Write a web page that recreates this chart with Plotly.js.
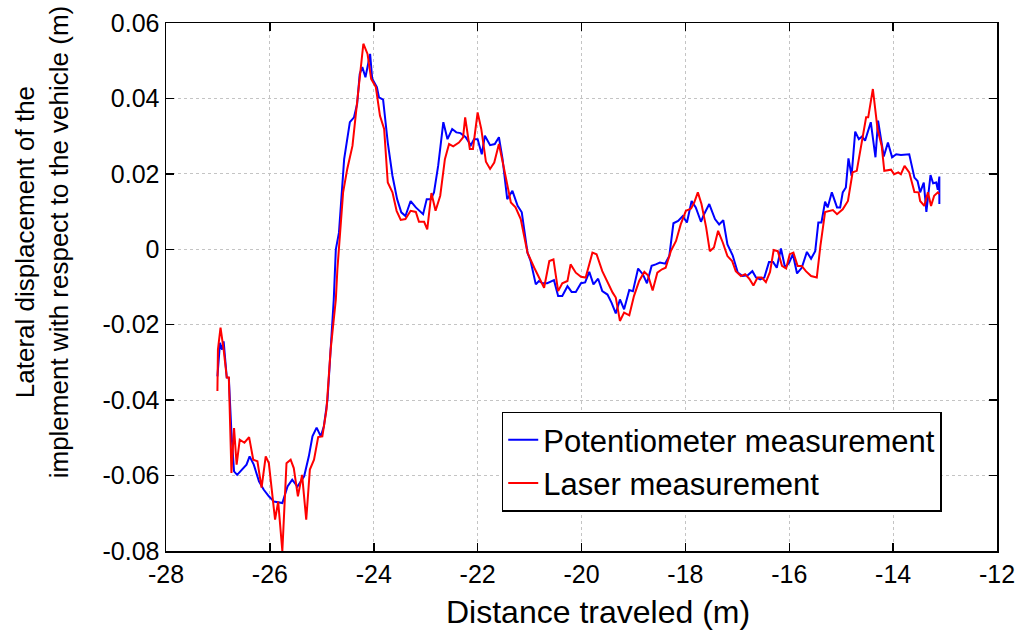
<!DOCTYPE html>
<html>
<head>
<meta charset="utf-8">
<script src="https://cdn.plot.ly/plotly-3.0.1.min.js"></script>
<style>
  html, body { margin: 0; padding: 0; background: #fff; }
  #chart { width: 1024px; height: 642px; }
</style>
</head>
<body>
<div id="chart"></div>
<script>
// Potentiometer measurement (blue)
const potX = [-27.01,-26.96,-26.92,-26.89,-26.83,-26.79,-26.74,-26.69,-26.63,-26.53,
  -26.45,-26.39,-26.31,-26.21,-26.12,-26.02,-25.92,-25.76,-25.66,-25.57,
  -25.47,-25.34,-25.25,-25.18,-25.10,-25.02,-24.96,-24.89,-24.83,-24.77,
  -24.73,-24.67,-24.57,-24.46,-24.38,-24.32,-24.27,-24.22,-24.16,-24.07,
  -24.03,-23.94,-23.90,-23.82,-23.73,-23.64,-23.55,-23.47,-23.39,-23.29,
  -23.19,-23.12,-23.05,-22.98,-22.90,-22.84,-22.76,-22.66,-22.58,-22.49,
  -22.41,-22.33,-22.23,-22.13,-22.07,-22.00,-21.92,-21.86,-21.76,-21.67,
  -21.59,-21.52,-21.43,-21.33,-21.23,-21.15,-21.04,-20.98,-20.88,-20.82,
  -20.75,-20.66,-20.53,-20.45,-20.37,-20.27,-20.19,-20.11,-20.01,-19.93,
  -19.85,-19.77,-19.68,-19.60,-19.50,-19.42,-19.34,-19.26,-19.18,-19.08,
  -19.01,-18.91,-18.82,-18.74,-18.65,-18.57,-18.49,-18.39,-18.31,-18.23,
  -18.14,-18.05,-17.97,-17.88,-17.80,-17.70,-17.64,-17.54,-17.43,-17.35,
  -17.27,-17.19,-17.09,-16.99,-16.90,-16.80,-16.71,-16.64,-16.56,-16.48,
  -16.39,-16.31,-16.24,-16.16,-16.08,-16.00,-15.93,-15.85,-15.76,-15.66,
  -15.58,-15.50,-15.44,-15.38,-15.31,-15.26,-15.18,-15.08,-15.02,-14.97,
  -14.91,-14.86,-14.80,-14.73,-14.66,-14.60,-14.54,-14.43,-14.34,-14.29,
  -14.18,-14.10,-14.02,-13.94,-13.85,-13.69,-13.59,-13.53,-13.48,-13.41,
  -13.36,-13.28,-13.23,-13.17,-13.14,-13.11,-13.11];
const potY = [-0.0337,-0.0248,-0.0266,-0.0244,-0.0340,-0.0341,-0.0486,-0.0589,-0.0598,-0.0584,
  -0.0571,-0.0549,-0.0571,-0.0615,-0.0637,-0.0655,-0.0669,-0.0673,-0.0629,-0.0611,
  -0.0629,-0.0602,-0.0549,-0.0496,-0.0473,-0.0496,-0.0469,-0.0398,-0.0266,-0.0133,
  0.0000,0.0044,0.0239,0.0337,0.0350,0.0385,0.0465,0.0483,0.0456,0.0518,
  0.0452,0.0430,0.0403,0.0397,0.0283,0.0195,0.0133,0.0098,0.0088,0.0128,
  0.0111,0.0102,0.0093,0.0133,0.0133,0.0151,0.0221,0.0337,0.0292,0.0319,
  0.0310,0.0308,0.0297,0.0276,0.0292,0.0292,0.0252,0.0301,0.0276,0.0279,
  0.0297,0.0239,0.0133,0.0155,0.0115,0.0098,-0.0009,-0.0031,-0.0093,-0.0084,
  -0.0090,-0.0090,-0.0082,-0.0124,-0.0124,-0.0098,-0.0113,-0.0113,-0.0090,-0.0088,
  -0.0060,-0.0093,-0.0078,-0.0111,-0.0120,-0.0142,-0.0170,-0.0133,-0.0159,-0.0108,
  -0.0111,-0.0051,-0.0066,-0.0090,-0.0044,-0.0040,-0.0035,-0.0038,-0.0018,0.0069,
  0.0075,0.0088,0.0071,0.0128,0.0111,0.0073,0.0093,0.0120,0.0080,0.0066,
  0.0077,0.0013,-0.0016,-0.0062,-0.0071,-0.0069,-0.0058,-0.0075,-0.0080,-0.0075,
  -0.0034,-0.0034,-0.0049,0.0002,-0.0049,-0.0035,-0.0013,-0.0064,-0.0049,-0.0007,
  -0.0025,-0.0005,0.0071,0.0071,0.0126,0.0111,0.0151,0.0111,0.0111,0.0151,
  0.0164,0.0241,0.0195,0.0312,0.0292,0.0299,0.0288,0.0337,0.0244,0.0341,
  0.0246,0.0283,0.0244,0.0252,0.0250,0.0252,0.0190,0.0181,0.0151,0.0177,
  0.0099,0.0197,0.0175,0.0177,0.0158,0.0193,0.0120];

// Laser measurement (red)
const laserX = [-27.01,-27.00,-26.95,-26.89,-26.83,-26.79,-26.74,-26.69,-26.64,-26.58,
  -26.49,-26.40,-26.32,-26.24,-26.16,-26.08,-26.02,-25.90,-25.84,-25.76,
  -25.68,-25.60,-25.54,-25.46,-25.38,-25.30,-25.23,-25.15,-25.07,-24.99,
  -24.91,-24.83,-24.73,-24.70,-24.59,-24.51,-24.41,-24.32,-24.20,-24.12,
  -24.05,-23.96,-23.88,-23.80,-23.73,-23.64,-23.56,-23.48,-23.39,-23.29,
  -23.19,-23.13,-23.03,-22.97,-22.89,-22.81,-22.72,-22.63,-22.55,-22.47,
  -22.36,-22.28,-22.24,-22.15,-22.09,-22.00,-21.93,-21.84,-21.76,-21.68,
  -21.59,-21.49,-21.41,-21.36,-21.27,-21.17,-21.04,-20.91,-20.72,-20.62,
  -20.54,-20.45,-20.37,-20.27,-20.21,-20.11,-20.01,-19.92,-19.79,-19.71,
  -19.60,-19.50,-19.40,-19.34,-19.26,-19.18,-19.08,-18.99,-18.89,-18.79,
  -18.72,-18.63,-18.54,-18.45,-18.38,-18.28,-18.18,-18.09,-17.99,-17.89,
  -17.83,-17.76,-17.69,-17.60,-17.53,-17.45,-17.37,-17.28,-17.19,-17.10,
  -17.03,-16.93,-16.85,-16.77,-16.69,-16.61,-16.53,-16.45,-16.37,-16.30,
  -16.22,-16.14,-16.06,-15.99,-15.92,-15.84,-15.76,-15.68,-15.58,-15.47,
  -15.40,-15.31,-15.16,-15.08,-14.97,-14.87,-14.78,-14.70,-14.62,-14.52,
  -14.48,-14.39,-14.30,-14.22,-14.17,-14.04,-13.98,-13.90,-13.85,-13.78,
  -13.69,-13.59,-13.51,-13.48,-13.40,-13.33,-13.27,-13.21,-13.14,-13.11];
const laserY = [-0.0376,-0.0266,-0.0208,-0.0266,-0.0340,-0.0340,-0.0593,-0.0474,-0.0571,-0.0505,
  -0.0513,-0.0498,-0.0558,-0.0562,-0.0632,-0.0549,-0.0567,-0.0717,-0.0669,-0.0800,
  -0.0567,-0.0558,-0.0580,-0.0655,-0.0598,-0.0717,-0.0584,-0.0558,-0.0498,-0.0496,
  -0.0425,-0.0266,-0.0133,-0.0053,0.0151,0.0213,0.0274,0.0390,0.0545,0.0518,
  0.0452,0.0430,0.0354,0.0319,0.0177,0.0151,0.0102,0.0078,0.0080,0.0102,
  0.0099,0.0073,0.0073,0.0053,0.0149,0.0102,0.0142,0.0239,0.0279,0.0273,
  0.0283,0.0297,0.0350,0.0266,0.0266,0.0363,0.0319,0.0232,0.0213,0.0230,
  0.0279,0.0213,0.0155,0.0124,0.0111,0.0080,-0.0009,-0.0049,-0.0102,-0.0031,
  -0.0027,-0.0111,-0.0090,-0.0084,-0.0040,-0.0062,-0.0073,-0.0075,-0.0009,-0.0013,
  -0.0058,-0.0088,-0.0115,-0.0128,-0.0190,-0.0168,-0.0175,-0.0124,-0.0084,-0.0060,
  -0.0069,-0.0109,-0.0062,-0.0053,-0.0049,-0.0005,0.0022,0.0066,0.0102,0.0108,
  0.0124,0.0151,0.0120,0.0058,-0.0005,0.0005,0.0049,0.0018,-0.0018,-0.0031,
  -0.0058,-0.0071,-0.0066,-0.0078,-0.0096,-0.0075,-0.0075,-0.0087,-0.0060,-0.0002,
  -0.0005,-0.0044,-0.0051,-0.0013,-0.0009,-0.0044,-0.0044,-0.0058,-0.0071,-0.0075,
  0.0009,0.0099,0.0104,0.0093,0.0106,0.0128,0.0204,0.0208,0.0270,0.0350,
  0.0350,0.0425,0.0319,0.0274,0.0208,0.0211,0.0199,0.0204,0.0199,0.0221,
  0.0204,0.0152,0.0151,0.0128,0.0115,0.0151,0.0115,0.0142,0.0151,0.0146];

// tick labels (plain hyphen minus, like the original)
const xTickVals = [-28, -26, -24, -22, -20, -18, -16, -14, -12];
const xTickText = ["-28", "-26", "-24", "-22", "-20", "-18", "-16", "-14", "-12"];
const yTickVals = [-0.08, -0.06, -0.04, -0.02, 0, 0.02, 0.04, 0.06];
const yTickText = ["-0.08", "-0.06", "-0.04", "-0.02", "0", "0.02", "0.04", "0.06"];

const font = "Liberation Sans, Arial, sans-serif";

const traces = [
  {
    x: potX, y: potY, type: "scatter", mode: "lines",
    name: "Potentiometer measurement",
    line: { color: "#0000ff", width: 2 }
  },
  {
    x: laserX, y: laserY, type: "scatter", mode: "lines",
    name: "Laser measurement",
    line: { color: "#ff0000", width: 2 }
  }
];

const axisCommon = {
  showline: true, linecolor: "#000", linewidth: 1.5, mirror: "ticks",
  ticks: "inside", ticklen: 8, tickwidth: 1.5, tickcolor: "#000",
  showgrid: true, gridcolor: "#c4c4c4", griddash: "dot", gridwidth: 1,
  zeroline: false, tickmode: "array"
};

const layout = {
  width: 1024, height: 642,
  margin: { l: 166, r: 27, t: 23, b: 91 },
  paper_bgcolor: "#fff", plot_bgcolor: "#fff",
  font: { family: font, color: "#000" },
  showlegend: true,
  xaxis: Object.assign({}, axisCommon, {
    range: [-28, -12],
    tickvals: xTickVals, ticktext: xTickText,
    tickfont: { family: font, size: 25 }
  }),
  yaxis: Object.assign({}, axisCommon, {
    range: [-0.08, 0.06],
    tickvals: yTickVals, ticktext: yTickText,
    tickfont: { family: font, size: 25 }
  }),
  legend: {
    x: 0.404, y: 0.264, xanchor: "left", yanchor: "top",
    bgcolor: "#fff", bordercolor: "#000", borderwidth: 1.5,
    font: { family: font, size: 31 },
    itemwidth: 30, tracegroupgap: 0
  },
  annotations: [
    {
      xref: "paper", yref: "paper", x: 0.52, y: -0.1155,
      xanchor: "center", yanchor: "middle", showarrow: false,
      text: "Distance traveled (m)",
      font: { family: font, size: 32 }
    },
    {
      xref: "paper", yref: "paper", x: -0.149, y: 0.585,
      xanchor: "center", yanchor: "middle", showarrow: false,
      textangle: -90,
      text: "Lateral displacement of the<br>implement with respect to the vehicle (m)",
      font: { family: font, size: 26 }
    }
  ]
};

Plotly.newPlot("chart", traces, layout, { displayModeBar: false, staticPlot: true });
</script>
</body>
</html>
